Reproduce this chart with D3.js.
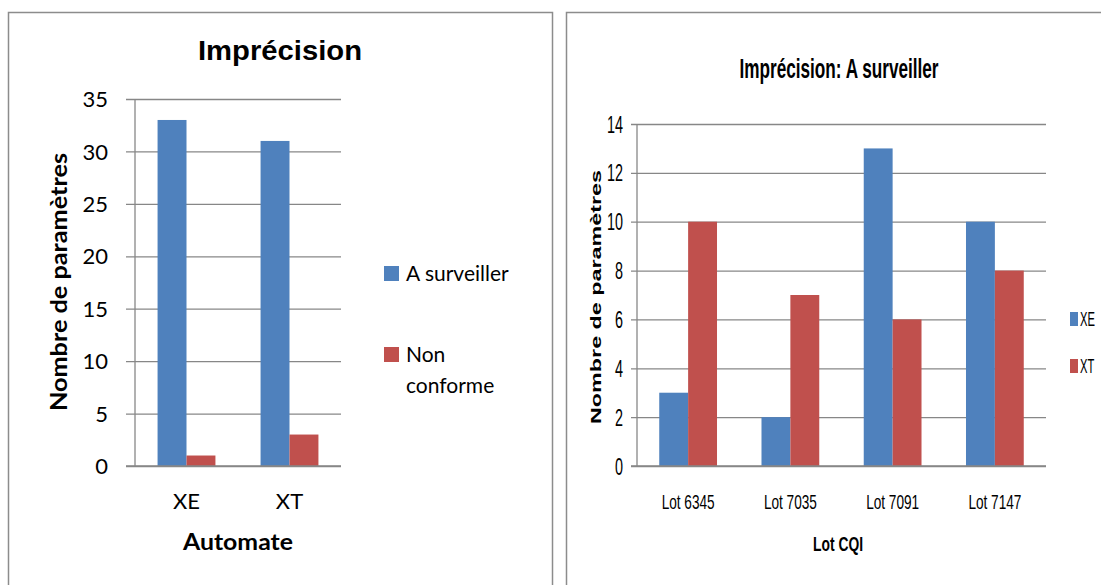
<!DOCTYPE html>
<html><head><meta charset="utf-8">
<script src="https://cdn.jsdelivr.net/npm/d3@7"></script>
<style>body{margin:0;background:#fff}svg{display:block}</style>
</head><body>
<svg id="c" width="1101" height="585"></svg>
<script>
// ---- data ----
const leftCategories = ["XE", "XT"];
const leftSeries = ["A surveiller", "Non conforme"];
const leftASurveiller = [33, 31];
const leftNonConforme = [1, 3];
const leftTicks = [0, 5, 10, 15, 20, 25, 30, 35];

const rightCategories = ["Lot 6345", "Lot 7035", "Lot 7091", "Lot 7147"];
const rightSeries = ["XE", "XT"];
const rightXE = [3, 2, 13, 10];
const rightXT = [10, 7, 6, 8];
const rightTicks = [0, 2, 4, 6, 8, 10, 12, 14];

const colors = ["#4F81BD", "#C0504D"];
const svg = d3.select("#c");

// panel borders
svg.append("rect").attr("x", 8.5).attr("y", 12.5).attr("width", 544).attr("height", 600)
  .attr("fill", "none").attr("stroke", "#8c8c8c").attr("stroke-width", 1.5);
svg.append("rect").attr("x", 566.5).attr("y", 12.5).attr("width", 600).attr("height", 600)
  .attr("fill", "none").attr("stroke", "#8c8c8c").attr("stroke-width", 1.5);

function squeeze(sel, perChar) {
  if (!perChar) return;
  sel.each(function () {
    const t = d3.select(this);
    t.attr("textLength", t.text().length * perChar).attr("lengthAdjust", "spacingAndGlyphs");
  });
}

function drawChart(o) {
  const g = svg.append("g");
  const y = d3.scaleLinear().domain([0, o.max]).range([o.y0, o.y1]);
  const x0 = d3.scaleBand().domain(o.categories).range([o.xa, o.xe]).padding(0);
  const x1 = d3.scaleBand().domain(o.series).range([0, x0.bandwidth()]).paddingInner(0).paddingOuter(o.pad);

  // gridlines via axis
  const grid = g.append("g").attr("transform", `translate(${o.xe},0)`)
    .call(d3.axisLeft(y).tickValues(o.ticks).tickSize(o.xe - o.tickStart).tickFormat(""));
  grid.select(".domain").remove();
  grid.selectAll("line").attr("stroke", "#878787").attr("stroke-width", 1.3);

  // bars
  o.series.forEach((s, si) => {
    g.append("g").selectAll("rect").data(o.values[si]).join("rect")
      .attr("x", (d, i) => x0(o.categories[i]) + x1(s))
      .attr("width", x1.bandwidth())
      .attr("y", d => y(d))
      .attr("height", d => y(0) - y(d))
      .attr("fill", colors[si]);
  });

  // vertical axis line
  g.append("line").attr("x1", o.xa).attr("x2", o.xa).attr("y1", o.y1).attr("y2", o.y0)
    .attr("stroke", "#878787").attr("stroke-width", 1.3);
  // baseline over bars
  g.append("line").attr("x1", o.tickStart).attr("x2", o.xe).attr("y1", y(0)).attr("y2", y(0))
    .attr("stroke", "#878787").attr("stroke-width", 1.3);

  // y tick labels
  const ya = g.append("g").attr("transform", `translate(${o.labelX},0)`)
    .call(d3.axisLeft(y).tickValues(o.ticks).tickSize(0).tickPadding(0));
  ya.select(".domain").remove();
  ya.selectAll("text").attr("font-family", o.tickFont).attr("font-size", o.ytickSize)
    .attr("fill", "#000").attr("dy", "0.35em");
  squeeze(ya.selectAll("text"), o.ytickChar);

  // x tick labels
  const xa = g.append("g").attr("transform", `translate(0,${o.xLabelY})`)
    .call(d3.axisBottom(x0).tickSize(0).tickPadding(0));
  xa.select(".domain").remove();
  xa.selectAll("text").attr("font-family", o.tickFont).attr("font-size", o.xtickSize)
    .attr("fill", "#000").attr("dy", 0);
  if (o.xtickLen) xa.selectAll("text").attr("textLength", o.xtickLen).attr("lengthAdjust", "spacingAndGlyphs");

  // title
  g.append("text").attr("x", o.titleX).attr("y", o.titleY).attr("text-anchor", "middle")
    .attr("font-family", o.titleFont).attr("font-weight", "bold").attr("font-size", o.titleSize)
    .attr("textLength", o.titleLen).attr("lengthAdjust", "spacingAndGlyphs").text(o.title);
  // x title
  g.append("text").attr("x", o.xTitleX).attr("y", o.xTitleY).attr("text-anchor", "middle")
    .attr("font-family", o.axisTitleFont).attr("font-weight", "bold").attr("font-size", o.xTitleSize)
    .attr("textLength", o.xTitleLen).attr("lengthAdjust", "spacingAndGlyphs").text(o.xTitle);
  // y title
  g.append("text").attr("transform", `translate(${o.yTitleX},${o.yTitleY}) rotate(-90)`)
    .attr("text-anchor", "middle")
    .attr("font-family", o.yTitleFont).attr("font-weight", "bold").attr("font-size", o.yTitleSize)
    .attr("textLength", o.yTitleLen).attr("lengthAdjust", "spacingAndGlyphs").text(o.yTitle);

  // legend
  o.legend.forEach((lines, i) => {
    const ly = o.legendY[i];
    g.append("rect").attr("x", o.legendX).attr("y", ly - o.legendBox).attr("width", o.legendBoxW)
      .attr("height", o.legendBox).attr("fill", colors[i]);
    lines.forEach((t, j) => {
      g.append("text")
        .attr("transform", `translate(${o.legendX + o.legendTextDx},${ly + j * o.legendLine}) scale(${o.legendScaleX},1)`)
        .attr("font-family", o.legendFont).attr("font-size", o.legendSize).text(t);
    });
  });
}

drawChart({
  categories: leftCategories, series: leftSeries, values: [leftASurveiller, leftNonConforme],
  max: 35, ticks: leftTicks, y0: 466, y1: 99, xa: 135, xe: 341, tickStart: 126, pad: 0.78,
  labelX: 108, tickFont: "Lato, 'Open Sans', sans-serif", ytickSize: 22, xtickSize: 22, xLabelY: 509,
  title: "Imprécision", titleX: 280, titleY: 60, titleFont: "'Liberation Sans', Arial, sans-serif", titleSize: 27, titleLen: 164,
  xTitle: "Automate", xTitleX: 238, xTitleY: 550, xTitleSize: 22, xTitleLen: 110, axisTitleFont: "Lato, sans-serif",
  yTitle: "Nombre de paramètres", yTitleX: 67, yTitleY: 282, yTitleFont: "Lato, sans-serif", yTitleSize: 22, yTitleLen: 258,
  legend: [["A surveiller"], ["Non", "conforme"]], legendY: [281, 362], legendX: 384, legendBox: 15, legendBoxW: 15,
  legendTextDx: 22, legendLine: 31, legendFont: "Lato, 'Open Sans', sans-serif", legendSize: 21, legendScaleX: 1
});

drawChart({
  categories: rightCategories, series: rightSeries, values: [rightXE, rightXT],
  max: 14, ticks: rightTicks, y0: 466, y1: 124, xa: 637, xe: 1046, tickStart: 631, pad: 0.77,
  labelX: 623, tickFont: "'Liberation Sans', Arial, sans-serif", ytickSize: 23, ytickChar: 8, xtickSize: 21, xLabelY: 509, xtickLen: 53,
  title: "Imprécision: A surveiller", titleX: 839, titleY: 78, titleFont: "'Liberation Sans', Arial, sans-serif", titleSize: 27, titleLen: 199,
  xTitle: "Lot CQI", xTitleX: 838, xTitleY: 551, xTitleSize: 21, xTitleLen: 50, axisTitleFont: "'Liberation Sans', Arial, sans-serif",
  yTitle: "Nombre de paramètres", yTitleX: 601, yTitleY: 297, yTitleFont: "'Liberation Sans', Arial, sans-serif", yTitleSize: 14, yTitleLen: 254,
  legend: [["XE"], ["XT"]], legendY: [326, 373], legendX: 1070, legendBox: 14, legendBoxW: 8,
  legendTextDx: 10, legendLine: 20, legendFont: "'Liberation Sans', Arial, sans-serif", legendSize: 20, legendScaleX: 0.56
});
</script>
</body></html>
